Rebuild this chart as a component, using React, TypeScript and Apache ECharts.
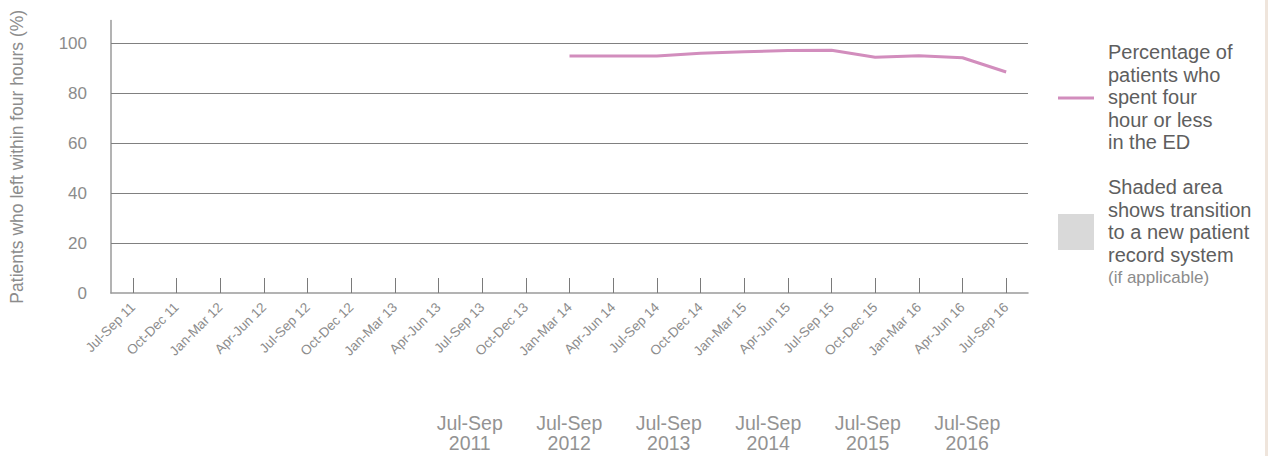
import React, { useEffect, useRef } from "react";
import * as echarts from "echarts";

const categories = [
  "Jul-Sep 11", "Oct-Dec 11", "Jan-Mar 12", "Apr-Jun 12", "Jul-Sep 12", "Oct-Dec 12",
  "Jan-Mar 13", "Apr-Jun 13", "Jul-Sep 13", "Oct-Dec 13", "Jan-Mar 14", "Apr-Jun 14",
  "Jul-Sep 14", "Oct-Dec 14", "Jan-Mar 15", "Apr-Jun 15", "Jul-Sep 15", "Oct-Dec 15",
  "Jan-Mar 16", "Apr-Jun 16", "Jul-Sep 16",
];
const percentWithin4h: (number | null)[] = [
  null, null, null, null, null, null, null, null, null, null,
  94.8, 94.8, 94.8, 95.9, 96.5, 97.0, 97.1, 94.3, 94.9, 94.1, 88.4,
];
const gridValues = [20, 40, 60, 80, 100];
const yearCategories = ["Jul-Sep\n2011", "Jul-Sep\n2012", "Jul-Sep\n2013", "Jul-Sep\n2014", "Jul-Sep\n2015", "Jul-Sep\n2016"];
const legendLineText = "Percentage of\npatients who\nspent four\nhour or less\nin the ED";
const legendAreaText = "Shaded area\nshows transition\nto a new patient\nrecord system";
const legendAreaNote = "(if applicable)";

const FONT = "'Liberation Sans', Helvetica, Arial, sans-serif";
const PINK = "#d28dbd";

export default function App() {
  const ref = useRef<HTMLDivElement>(null);
  useEffect(() => {
    if (!ref.current) return;
    const chart = echarts.init(ref.current, undefined, { renderer: "svg" });
    chart.setOption({
      animation: false,
      textStyle: { fontFamily: FONT },
      grid: [
        { left: 106, right: 240, top: 20.5, bottom: 163 },
        { left: 420, right: 251, top: 400, height: 1 },
      ],
      xAxis: [
        {
          type: "category",
          gridIndex: 0,
          data: categories,
          boundaryGap: true,
          axisLine: { lineStyle: { color: "#9a9a9a", width: 1.5 } },
          axisTick: { show: true, alignWithLabel: true, inside: true, length: 15, lineStyle: { color: "#7a7a7a", width: 1 } },
          axisLabel: { rotate: 45, interval: 0, color: "#8c8c8c", fontSize: 13.5, margin: 12, fontFamily: FONT },
        },
        {
          type: "category",
          gridIndex: 1,
          data: yearCategories,
          axisLine: { show: false },
          axisTick: { show: false },
          axisLabel: { interval: 0, color: "#939393", fontSize: 19.5, lineHeight: 20, margin: 12, fontFamily: FONT },
        },
      ],
      yAxis: [
        {
          type: "value",
          gridIndex: 0,
          min: 0,
          max: 109,
          interval: 20,
          name: "Patients who left within four hours (%)",
          nameLocation: "middle",
          nameGap: 85,
          nameTextStyle: { color: "#8c8c8c", fontSize: 17.5, fontFamily: FONT },
          axisLine: { show: true, lineStyle: { color: "#9a9a9a", width: 1.5 } },
          axisTick: { show: false },
          splitLine: { show: false },
          axisLabel: { showMaxLabel: false, color: "#8c8c8c", fontSize: 17, margin: 24, fontFamily: FONT },
        },
        { type: "value", gridIndex: 1, show: false },
      ],
      series: [
        {
          type: "line",
          name: "Percentage",
          xAxisIndex: 0,
          yAxisIndex: 0,
          data: percentWithin4h,
          showSymbol: false,
          symbol: "none",
          lineStyle: { color: PINK, width: 3 },
          markLine: {
            silent: true,
            symbol: "none",
            label: { show: false },
            lineStyle: { color: "#808080", width: 1, type: "solid" },
            data: gridValues.map((v) => ({ yAxis: v })),
          },
          z: 3,
        },
      ],
      graphic: [
        { type: "rect", shape: { x: 1265, y: 0, width: 3, height: 456 }, style: { fill: "#efe5dc" } },
        { type: "line", shape: { x1: 1058, y1: 98, x2: 1094, y2: 98 }, style: { stroke: PINK, lineWidth: 3 } },
        {
          type: "text",
          x: 1108,
          y: 41,
          style: { text: legendLineText, fill: "#5e5e5e", font: `20px ${FONT}`, lineHeight: 22.5 },
        },
        { type: "rect", shape: { x: 1058, y: 214, width: 36, height: 36 }, style: { fill: "#d9d9d9" } },
        {
          type: "text",
          x: 1108,
          y: 176,
          style: { text: legendAreaText, fill: "#5e5e5e", font: `20px ${FONT}`, lineHeight: 22.5 },
        },
        {
          type: "text",
          x: 1108,
          y: 266,
          style: { text: legendAreaNote, fill: "#8c8c8c", font: `17px ${FONT}`, lineHeight: 22 },
        },
      ],
    });
    return () => chart.dispose();
  }, []);
  return <div ref={ref} style={{ width: 1268, height: 456, position: "absolute", left: 0, top: 0 }} />;
}
